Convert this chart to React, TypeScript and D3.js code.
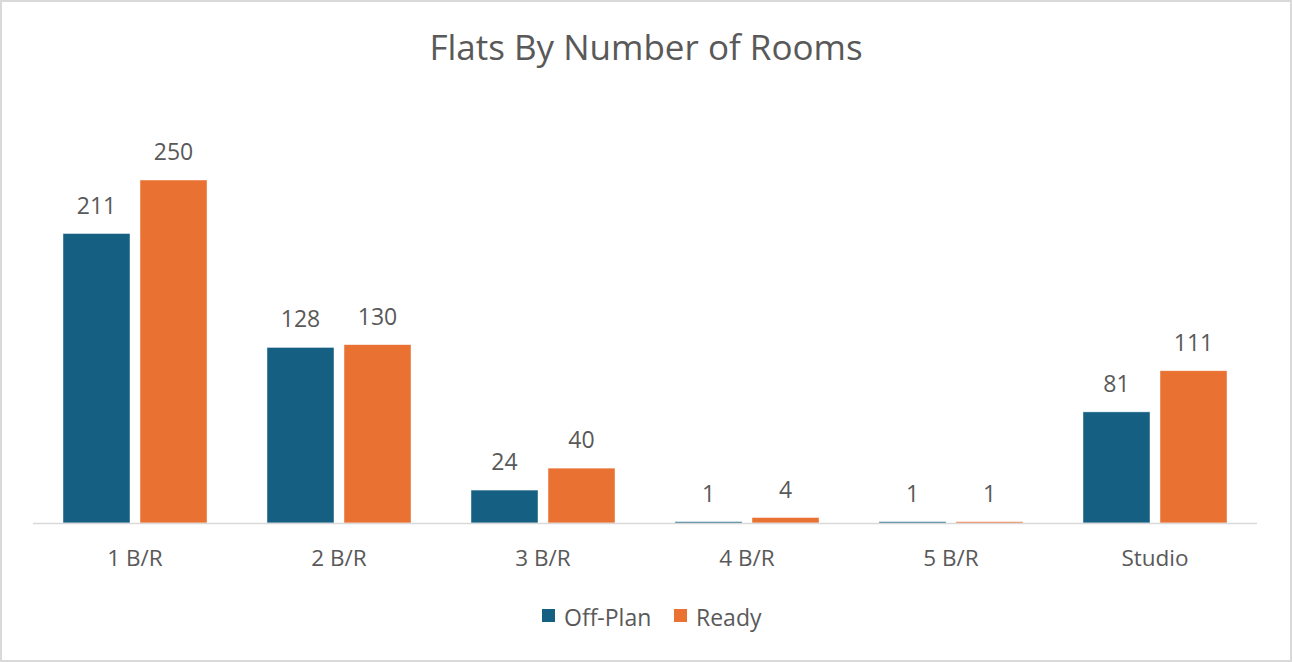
import React from "react";
import * as d3 from "d3";

const categories = ["1 B/R", "2 B/R", "3 B/R", "4 B/R", "5 B/R", "Studio"];
const offPlan = [211, 128, 24, 1, 1, 81];
const ready = [250, 130, 40, 4, 1, 111];
const seriesNames = ["Off-Plan", "Ready"];
const colors = ["#156082", "#E97132"];

const W = 1292;
const H = 662;
const FONT = "'Open Sans', 'Noto Sans', sans-serif";
const TXT = "#595959";

export default function App() {
  const x0 = d3.scaleBand<string>().domain(categories).range([33, 1257]).paddingInner(0.294).paddingOuter(0.147);
  const x1 = d3.scaleBand<string>().domain(seriesNames).range([0, x0.bandwidth()]).paddingInner(0.13);
  const y = d3.scaleLinear().domain([0, 300]).range([523, 111.4]);
  const series = [offPlan, ready];

  return (
    <svg width={W} height={H} style={{ position: "absolute", left: 0, top: 0 }} fontFamily={FONT}>
      <rect x={0} y={0} width={W} height={H} fill="#fff" />
      <rect x={1} y={1} width={W - 2} height={H - 2} fill="none" stroke="#d9d9d9" strokeWidth={2} />
      <text x={646} y={60} textAnchor="middle" fontSize={35} fill={TXT}>Flats By Number of Rooms</text>
      {categories.map((c, i) => (
        <g key={c} transform={`translate(${x0(c)},0)`}>
          {series.map((s, j) => {
            const bx = x1(seriesNames[j])!;
            const v = s[i];
            return (
              <g key={j}>
                <rect x={bx} y={y(v)} width={x1.bandwidth()} height={y(0) - y(v)} fill={colors[j]}
                  stroke="#ffffff" strokeOpacity={0.6} strokeWidth={0.75} />
                <text x={bx + x1.bandwidth() / 2} y={y(v) - 20} textAnchor="middle" fontSize={23} fill={TXT}>{v}</text>
              </g>
            );
          })}
          <text x={x0.bandwidth() / 2} y={566} textAnchor="middle" fontSize={22.5} fill={TXT}>{c}</text>
        </g>
      ))}
      <line x1={33} x2={1257} y1={523.5} y2={523.5} stroke="#d9d9d9" strokeWidth={1.5} />
      <g>
        <rect x={542} y={609} width={13} height={13} fill={colors[0]} />
        <text x={564} y={626} fontSize={23} fill={TXT}>{seriesNames[0]}</text>
        <rect x={674} y={609} width={13} height={13} fill={colors[1]} />
        <text x={696} y={626} fontSize={23} fill={TXT}>{seriesNames[1]}</text>
      </g>
    </svg>
  );
}
